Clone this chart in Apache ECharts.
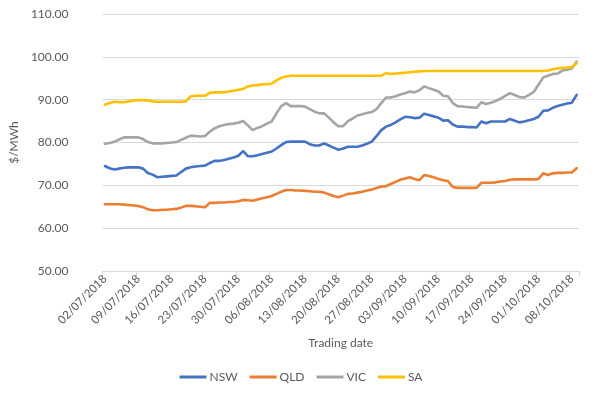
<!DOCTYPE html>
<html>
<head>
<meta charset="utf-8">
<script src="https://cdn.jsdelivr.net/npm/echarts@6/dist/echarts.min.js"></script>
<style>
  html, body { margin: 0; padding: 0; background: #fff; }
  #chart { width: 602px; height: 398px; }
</style>
</head>
<body>
<div id="chart"></div>
<script>
// trading dates run daily from 02/07/2018 for 100 days
var startDate = [2018, 6, 2];
var dayCount = 100;
var yTicks = [50, 60, 70, 80, 90, 100, 110];

var nsw = [74.5, 74.0, 73.7, 73.9, 74.1, 74.2, 74.2, 74.2, 73.9, 72.9,
  72.5, 71.9, 72.0, 72.1, 72.2, 72.3, 73.1, 73.9, 74.2, 74.4,
  74.5, 74.6, 75.2, 75.7, 75.7, 75.9, 76.2, 76.5, 76.9, 78.0,
  76.8, 76.8, 77.0, 77.3, 77.6, 77.9, 78.6, 79.4, 80.1, 80.2,
  80.2, 80.2, 80.2, 79.6, 79.3, 79.3, 79.8, 79.3, 78.8, 78.3,
  78.6, 79.0, 79.0, 79.0, 79.3, 79.7, 80.2, 81.5, 82.9, 83.7,
  84.1, 84.7, 85.4, 86.0, 85.9, 85.7, 85.8, 86.7, 86.4, 86.1,
  85.8, 85.1, 85.2, 84.2, 83.7, 83.7, 83.6, 83.6, 83.5, 84.9,
  84.5, 84.9, 84.9, 84.9, 84.9, 85.5, 85.1, 84.7, 84.9, 85.2,
  85.5, 86.0, 87.4, 87.5, 88.1, 88.5, 88.8, 89.1, 89.3, 91.1];

var qld = [65.6, 65.6, 65.6, 65.6, 65.5, 65.4, 65.3, 65.2, 64.9, 64.4,
  64.2, 64.2, 64.3, 64.3, 64.4, 64.5, 64.8, 65.2, 65.2, 65.1,
  65.0, 64.9, 65.9, 65.9, 66.0, 66.0, 66.1, 66.1, 66.3, 66.6,
  66.5, 66.4, 66.7, 67.0, 67.2, 67.5, 68.0, 68.5, 68.9, 68.9,
  68.8, 68.8, 68.7, 68.6, 68.5, 68.5, 68.3, 67.9, 67.5, 67.2,
  67.6, 68.0, 68.1, 68.3, 68.5, 68.8, 69.0, 69.4, 69.7, 69.8,
  70.3, 70.8, 71.3, 71.6, 71.9, 71.5, 71.2, 72.4, 72.2, 71.9,
  71.5, 71.2, 71.0, 69.6, 69.4, 69.4, 69.4, 69.4, 69.4, 70.6,
  70.6, 70.6, 70.7, 70.9, 71.0, 71.3, 71.4, 71.4, 71.4, 71.4,
  71.4, 71.5, 72.8, 72.4, 72.8, 72.9, 72.9, 73.0, 73.0, 74.0];

var vic = [79.7, 79.9, 80.2, 80.7, 81.2, 81.2, 81.2, 81.2, 80.8, 80.1,
  79.8, 79.8, 79.8, 79.9, 80.0, 80.1, 80.6, 81.1, 81.6, 81.5,
  81.4, 81.5, 82.5, 83.3, 83.8, 84.1, 84.3, 84.4, 84.6, 85.0,
  84.0, 82.9, 83.4, 83.8, 84.4, 84.9, 86.8, 88.5, 89.2, 88.5,
  88.5, 88.5, 88.4, 87.8, 87.2, 86.8, 86.8, 85.8, 84.7, 83.8,
  83.8, 85.0, 85.6, 86.3, 86.6, 86.9, 87.1, 87.8, 89.2, 90.5,
  90.5, 90.8, 91.2, 91.5, 91.9, 91.7, 92.2, 93.1, 92.7, 92.3,
  91.9, 90.9, 90.8, 89.2, 88.5, 88.4, 88.3, 88.2, 88.1, 89.4,
  89.0, 89.3, 89.7, 90.2, 90.9, 91.5, 91.1, 90.6, 90.5, 91.1,
  91.8, 93.5, 95.2, 95.6, 96.0, 96.1, 96.8, 97.0, 97.3, 98.9];

var sa = [88.8, 89.2, 89.5, 89.4, 89.4, 89.6, 89.8, 89.9, 89.9, 89.8,
  89.6, 89.5, 89.5, 89.5, 89.5, 89.5, 89.5, 89.6, 90.8, 90.9,
  90.9, 90.9, 91.6, 91.7, 91.7, 91.7, 91.9, 92.1, 92.3, 92.5,
  93.1, 93.3, 93.4, 93.6, 93.6, 93.7, 94.5, 95.1, 95.4, 95.6,
  95.6, 95.6, 95.6, 95.6, 95.6, 95.6, 95.6, 95.6, 95.6, 95.6,
  95.6, 95.6, 95.6, 95.6, 95.6, 95.6, 95.6, 95.6, 95.6, 96.2,
  96.0, 96.1, 96.2, 96.3, 96.4, 96.5, 96.6, 96.7, 96.7, 96.7,
  96.7, 96.7, 96.7, 96.7, 96.7, 96.7, 96.7, 96.7, 96.7, 96.7,
  96.7, 96.7, 96.7, 96.7, 96.7, 96.7, 96.7, 96.7, 96.7, 96.7,
  96.7, 96.7, 96.7, 96.8, 97.1, 97.3, 97.4, 97.5, 97.6, 98.5];

var pad = function (n) { return (n < 10 ? '0' : '') + n; };
var dates = [];
for (var i = 0; i < dayCount; i++) {
  var d = new Date(startDate[0], startDate[1], startDate[2] + i);
  dates.push(pad(d.getDate()) + '/' + pad(d.getMonth() + 1) + '/' + d.getFullYear());
}

var textColor = '#595959';
var font = 'Lato, "Open Sans", sans-serif';

function makeSeries(name, values, color) {
  return {
    name: name,
    type: 'line',
    data: values,
    showSymbol: false,
    symbol: 'none',
    lineStyle: { color: color, width: 2.6, cap: 'round', join: 'round' },
    itemStyle: { color: color },
    animation: false
  };
}

var chart = echarts.init(document.getElementById('chart'));
chart.setOption({
  backgroundColor: '#fff',
  textStyle: { fontFamily: font, color: textColor },
  grid: { left: 86, right: 23, top: 14, bottom: 127, containLabel: false },
  legend: {
    bottom: 10,
    left: 'center',
    icon: 'rect',
    itemWidth: 27,
    itemHeight: 3,
    itemGap: 12,
    textStyle: { fontFamily: font, color: textColor, fontSize: 12, padding: [0, 0, 0, -2] },
    data: ['NSW', 'QLD', 'VIC', 'SA']
  },
  xAxis: {
    type: 'category',
    data: dates,
    boundaryGap: true,
    name: 'Trading date',
    nameLocation: 'middle',
    nameGap: 66,
    nameTextStyle: { fontFamily: font, color: textColor, fontSize: 12 },
    axisLine: { lineStyle: { color: '#D9D9D9', width: 1 } },
    axisTick: { show: true, interval: 6, length: 5, lineStyle: { color: '#D9D9D9' } },
    axisLabel: { interval: 6, rotate: 45, color: textColor, fontSize: 11.5, fontFamily: font, margin: 6 },
    splitLine: { show: false }
  },
  yAxis: {
    type: 'value',
    min: yTicks[0],
    max: yTicks[yTicks.length - 1],
    interval: 10,
    name: '$/MWh',
    nameLocation: 'middle',
    nameRotate: 90,
    nameGap: 64,
    nameTextStyle: { fontFamily: font, color: textColor, fontSize: 12 },
    axisLine: { show: false },
    axisTick: { show: false },
    axisLabel: {
      color: textColor, fontSize: 12, fontFamily: font, margin: 34,
      formatter: function (v) { return v.toFixed(2); }
    },
    splitLine: { lineStyle: { color: '#D9D9D9', width: 1 } }
  },
  series: [
    makeSeries('NSW', nsw, '#4472C4'),
    makeSeries('QLD', qld, '#ED7D31'),
    makeSeries('VIC', vic, '#A5A5A5'),
    makeSeries('SA', sa, '#FFC000')
  ]
});
</script>
</body>
</html>
